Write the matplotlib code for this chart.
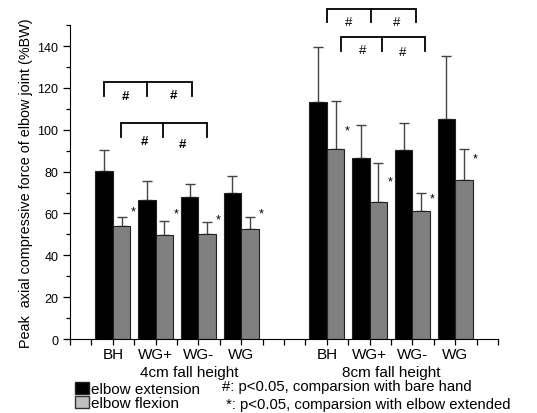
import matplotlib
matplotlib.use("Agg")
import matplotlib.pyplot as plt
from matplotlib.patches import Patch
from matplotlib.ticker import FixedLocator, MultipleLocator

plt.rcParams['font.family'] = ['Liberation Sans', 'DejaVu Sans']

# category positions (x axis units) and labels
positions = [2, 4, 6, 8, 12, 14, 16, 18]
categories = ['BH', 'WG+', 'WG-', 'WG', 'BH', 'WG+', 'WG-', 'WG']

# peak axial compressive force (%BW), mean and upper error bar end
ext_mean = [80.3, 66.4, 67.7, 69.9, 113.3, 86.5, 90.5, 105.2]
ext_top = [90.2, 75.3, 74.1, 77.7, 139.4, 102.2, 103.3, 135.1]
flex_mean = [54.0, 49.7, 50.4, 52.4, 90.7, 65.6, 61.2, 76.1]
flex_top = [58.1, 56.2, 55.9, 58.1, 113.7, 84.0, 69.8, 90.7]

# height of the '*' marks next to the flexion bars
star_y = [60.8, 59.9, 57.1, 59.9, 99.6, 75.2, 67.0, 86.2]

# brackets: (x points, top y, foot y), and '#' marks (x, y, weight)
brackets = [
    ([1.6, 3.6, 5.7], 122.9, 116.2),
    ([2.4, 4.35, 6.4], 103.0, 96.3),
    ([12.0, 14.05, 16.15], 157.6, 151.3),
    ([12.65, 14.6, 16.6], 144.5, 137.8),
]
hashes = [
    (2.6, 116.2, 'bold'), (4.83, 116.6, 'bold'),
    (3.46, 94.5, 'bold'), (5.27, 93.2, 'bold'),
    (13.02, 151.3, 'normal'), (15.26, 151.7, 'normal'),
    (13.66, 138.1, 'normal'), (15.53, 137.3, 'normal'),
]

group_labels = ['4cm fall height', '8cm fall height']
group_x = [5.56, 15.0]

bw = 0.82

fig = plt.figure(figsize=(5.37, 4.14), dpi=100)
ax = fig.add_axes([0.1304, 0.1787, 0.797, 0.7583])

ext_err = [t - m for t, m in zip(ext_top, ext_mean)]
flex_err = [t - m for t, m in zip(flex_top, flex_mean)]

xe = [p - bw / 2 for p in positions]
xf = [p + bw / 2 for p in positions]

ax.bar(xe, ext_mean, width=bw, color='black', edgecolor='#222222',
       linewidth=0.8, zorder=2)
ax.bar(xf, flex_mean, width=bw, color='#808080', edgecolor='#222222',
       linewidth=0.8, zorder=2)
ax.errorbar(xe, ext_mean, yerr=[[0] * len(ext_err), ext_err], fmt='none',
            ecolor='#444444', elinewidth=1, capsize=3.5, capthick=1, zorder=1)
ax.errorbar(xf, flex_mean, yerr=[[0] * len(flex_err), flex_err], fmt='none',
            ecolor='#444444', elinewidth=1, capsize=3.5, capthick=1, zorder=1)

for p, y in zip(positions, star_y):
    ax.text(p + bw + 0.12, y, '*', ha='center', va='center', fontsize=9)

for xs, top, foot in brackets:
    ax.plot([xs[0], xs[0], xs[2], xs[2]], [foot, top, top, foot], color='black',
            lw=1.3, clip_on=False, solid_joinstyle='miter')
    ax.plot([xs[1], xs[1]], [top, foot], color='black', lw=1.3, clip_on=False)

for x, y, w in hashes:
    ax.text(x, y, '#', ha='center', va='center', fontsize=9.5, fontweight=w)

ax.set_xlim(0, 20)
ax.set_ylim(0, 150)
ax.spines['top'].set_visible(False)
ax.spines['right'].set_visible(False)

ax.xaxis.set_major_locator(FixedLocator(positions))
ax.set_xticklabels(categories, fontsize=11)
ax.xaxis.set_minor_locator(FixedLocator([i for i in range(21) if i not in positions]))
ax.tick_params(axis='x', which='both', direction='out', length=4, width=0.9, pad=1.5)

ax.yaxis.set_major_locator(FixedLocator(range(0, 141, 20)))
ax.yaxis.set_minor_locator(MultipleLocator(10))
ax.tick_params(axis='y', which='major', length=5, width=0.9, labelsize=9)
ax.tick_params(axis='y', which='minor', length=3, width=0.9)

ax.set_ylabel('Peak  axial compressive force of elbow joint (%BW)', fontsize=10.4, labelpad=3)

for lab, gx in zip(group_labels, group_x):
    ax.text(gx, -15.8, lab, ha='center', va='center', fontsize=11)

handles = [Patch(facecolor='black', edgecolor='#222222', label='elbow extension'),
           Patch(facecolor='#c0c0c0', edgecolor='#333333', label='elbow flexion')]
fig.legend(handles=handles, loc='upper left', bbox_to_anchor=(0.14, 0.076),
           frameon=False, fontsize=11, handlelength=0.9, handleheight=0.85,
           handletextpad=0.15, labelspacing=0.0, borderpad=0, borderaxespad=0)

fig.text(0.413, 0.066, '#: p<0.05, comparsion with bare hand', ha='left', va='center', fontsize=10.7)
fig.text(0.421, 0.021, '*: p<0.05, comparsion with elbow extended', ha='left', va='center', fontsize=10.7)

fig.savefig('out.png', dpi=100)
